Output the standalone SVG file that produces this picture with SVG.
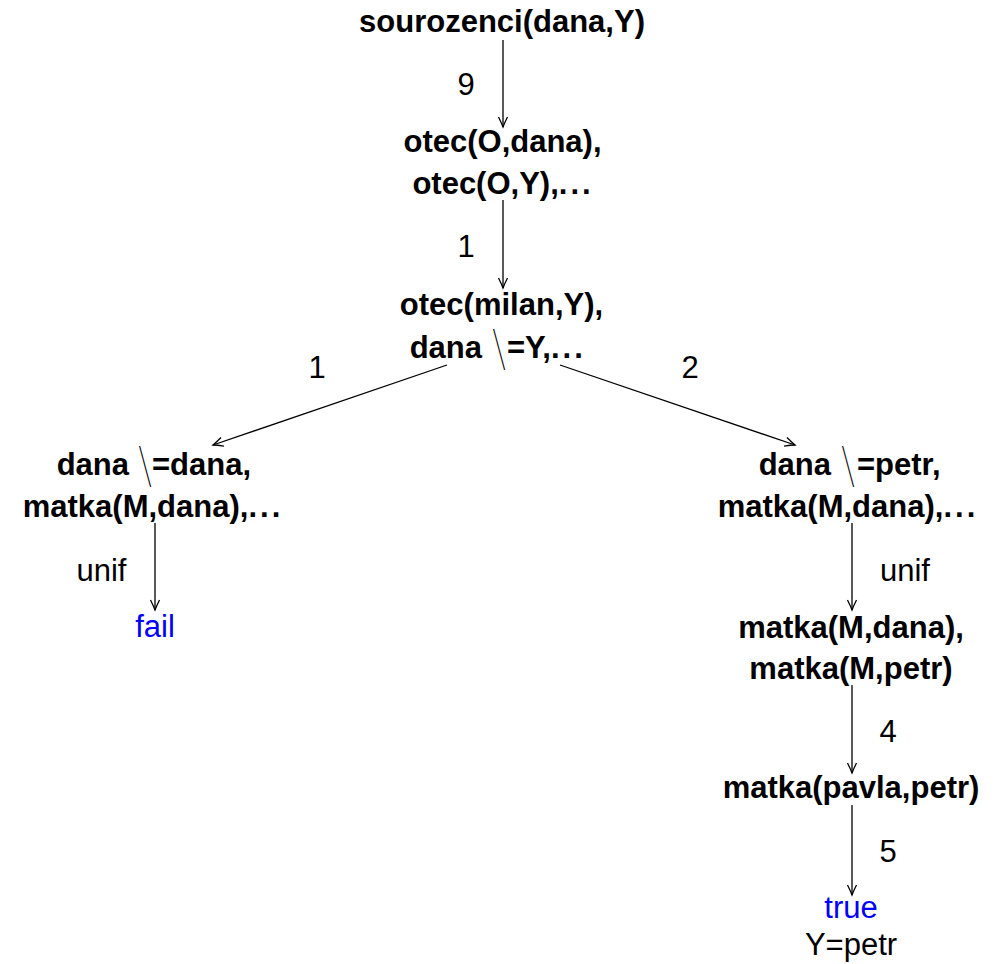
<svg xmlns="http://www.w3.org/2000/svg" width="1002" height="964" viewBox="0 0 1002 964">
<style>
  text { font-family: "Liberation Sans", Arial, sans-serif; font-size: 31px; fill: #000; }
  .b { font-weight: bold; }
  .c { text-anchor: middle; }
  .e { text-anchor: end; }
  .s { text-anchor: start; }
  .blue { fill: #0000ff; }
  .dots { letter-spacing: 3px; }
  .bs { font-family: "Inter", "Liberation Sans", sans-serif; font-weight: 100; font-size: 47px; text-anchor: middle; }
  #connectors line { stroke: #000; stroke-width: 1.3; fill: none; marker-end: url(#arrow); }
</style>
<defs>
  <marker id="arrow" viewBox="-12 -6 14 12" refX="0" refY="0" markerWidth="14" markerHeight="12" markerUnits="userSpaceOnUse" orient="auto">
    <path d="M-10,-4.5 Q-4,-1.5 0,0 Q-4,1.5 -10,4.5" fill="none" stroke="#000" stroke-width="1.3"/>
  </marker>
</defs>
<rect width="1002" height="964" fill="#fff"/>

<g id="connectors">
  <line x1="503" y1="40" x2="503" y2="127"/>
  <line x1="503" y1="200" x2="503" y2="288"/>
  <line x1="447" y1="365" x2="213" y2="445"/>
  <line x1="560" y1="365" x2="795" y2="445"/>
  <line x1="155" y1="523" x2="155" y2="610"/>
  <line x1="852" y1="523" x2="852" y2="610"/>
  <line x1="852" y1="685" x2="852" y2="773"/>
  <line x1="852" y1="805" x2="852" y2="895"/>
</g>

<g id="labels">
  <text class="c" x="466" y="95">9</text>
  <text class="c" x="466" y="257">1</text>
  <text class="c" x="317" y="378">1</text>
  <text class="c" x="690" y="378">2</text>
  <text class="c" x="101.5" y="581">unif</text>
  <text class="c" x="905" y="581">unif</text>
  <text class="c" x="888" y="742">4</text>
  <text class="c" x="888" y="862">5</text>
</g>

<g id="n1">
  <text class="b c" x="502" y="32">sourozenci(dana,Y)</text>
</g>
<g id="n2">
  <text class="b c" x="502.5" y="152">otec(O,dana),</text>
  <text class="b c" x="503" y="194">otec(O,Y),<tspan class="dots">...</tspan></text>
</g>
<g id="n3">
  <text class="b c" x="501.5" y="315">otec(milan,Y),</text>
  <text class="b e" x="482" y="358">dana</text>
  <text class="bs" x="499" y="365">\</text>
  <text class="b s" x="507" y="358">=Y,<tspan class="dots">...</tspan></text>
</g>
<g id="n4">
  <text class="b e" x="129" y="475">dana</text>
  <text class="bs" x="145" y="482">\</text>
  <text class="b s" x="152" y="475">=dana,</text>
  <text class="b c" x="153" y="517">matka(M,dana),<tspan class="dots">...</tspan></text>
</g>
<g id="n5">
  <text class="c blue" x="155" y="637">fail</text>
</g>
<g id="n6">
  <text class="b e" x="831" y="475">dana</text>
  <text class="bs" x="848" y="482">\</text>
  <text class="b s" x="857" y="475">=petr,</text>
  <text class="b c" x="848" y="517">matka(M,dana),<tspan class="dots">...</tspan></text>
</g>
<g id="n7">
  <text class="b c" x="851" y="638">matka(M,dana),</text>
  <text class="b c" x="851" y="679">matka(M,petr)</text>
</g>
<g id="n8">
  <text class="b c" x="851" y="798">matka(pavla,petr)</text>
</g>
<g id="n9">
  <text class="c blue" x="851" y="918">true</text>
  <text class="c" x="851" y="955">Y=petr</text>
</g>
</svg>
